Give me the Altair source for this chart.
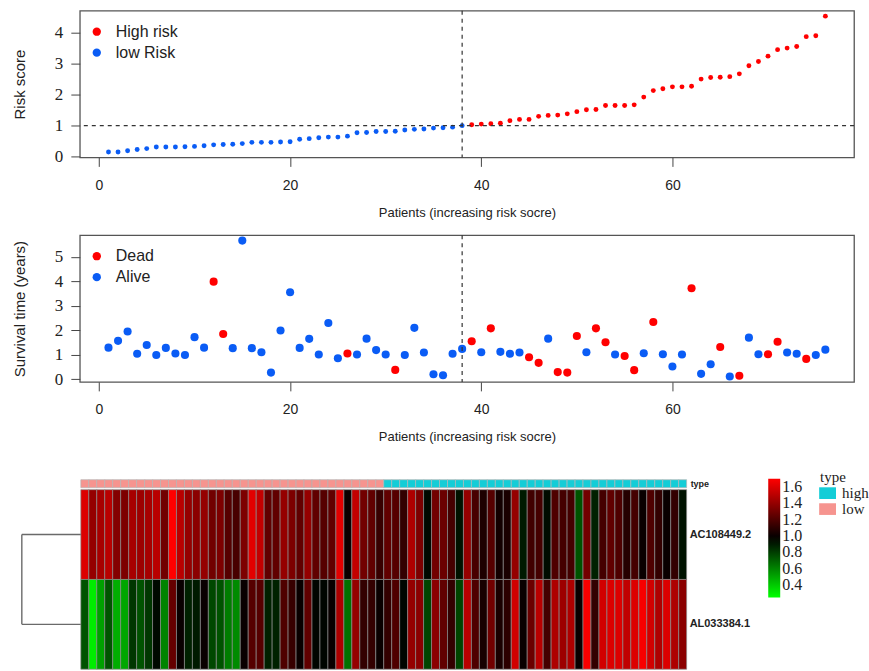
import altair as alt
import pandas as pd

# ---------------- data ----------------
risk_score = [0.15, 0.15, 0.19, 0.23, 0.26, 0.31, 0.31, 0.31, 0.32, 0.33,
              0.35, 0.38, 0.39, 0.40, 0.42, 0.46, 0.46, 0.46, 0.47, 0.48,
              0.56, 0.58, 0.61, 0.63, 0.63, 0.66, 0.77, 0.78, 0.81, 0.81,
              0.82, 0.86, 0.88, 0.89, 0.92, 0.93, 0.95, 1.00,
              1.03, 1.05, 1.06, 1.08, 1.16, 1.20, 1.20, 1.30, 1.33, 1.34,
              1.38, 1.45, 1.51, 1.52, 1.65, 1.65, 1.65, 1.67, 1.92, 2.13,
              2.19, 2.25, 2.25, 2.27, 2.50, 2.55, 2.56, 2.58, 2.67, 2.93,
              3.07, 3.24, 3.45, 3.50, 3.55, 3.87, 3.90, 4.53]

survival_time = [1.29, 1.57, 1.95, 1.04, 1.40, 0.99, 1.28, 1.05, 0.99, 1.72,
                 1.29, 3.99, 1.85, 1.27, 5.67, 1.27, 1.10, 0.27, 1.99, 3.56,
                 1.28, 1.65, 1.01, 2.30, 0.86, 1.05, 1.01, 1.66, 1.19, 1.01,
                 0.38, 0.99, 2.10, 1.09, 0.20, 0.16, 1.04, 1.24, 1.55, 1.10,
                 2.08, 1.12, 1.04, 1.09, 0.90, 0.67, 1.66, 0.29, 0.27, 1.77,
                 1.10, 2.08, 1.51, 1.01, 0.95, 0.37, 1.06, 2.34, 1.02, 0.52,
                 1.01, 3.72, 0.22, 0.61, 1.32, 0.11, 0.14, 1.70, 1.02, 1.02,
                 1.53, 1.09, 1.04, 0.83, 0.99, 1.21]

dead_patients = [12, 13, 26, 31, 39, 41, 45, 46, 48, 49, 50, 52, 53, 55, 56,
                 58, 62, 65, 67, 70, 71, 74]

gene_names = ["AC108449.2", "AL033384.1"]
expr_ac108449 = [1.60, 1.40, 1.45, 1.50, 1.35, 1.33, 1.45, 1.42, 1.45, 1.50,
                 1.30, 1.70, 1.50, 1.40, 1.37, 1.40, 1.30, 1.33, 1.22, 1.18,
                 1.33, 1.62, 1.53, 1.25, 1.25, 1.40, 1.33, 1.25, 1.40, 1.25,
                 1.22, 1.25, 1.62, 1.00, 1.53, 1.30, 1.25, 1.13, 1.25, 1.22,
                 1.12, 1.47, 1.33, 0.95, 1.30, 1.28, 1.17, 0.92, 1.40, 1.18,
                 1.06, 1.22, 1.03, 1.05, 1.40, 0.90, 1.16, 1.17, 0.94, 1.20,
                 1.17, 1.17, 0.74, 1.30, 0.88, 1.17, 1.25, 1.20, 1.08, 1.17,
                 1.00, 1.20, 1.12, 1.00, 1.12, 0.92]
expr_al033384 = [0.74, 0.30, 0.52, 0.74, 0.48, 0.50, 0.82, 0.74, 0.82, 0.95,
                 0.60, 1.26, 1.00, 0.88, 0.90, 1.00, 0.77, 0.74, 0.62, 0.58,
                 1.00, 1.22, 1.22, 0.88, 0.88, 1.20, 1.13, 1.00, 1.25, 0.96,
                 0.96, 1.00, 1.47, 0.65, 1.40, 1.12, 1.12, 1.00, 1.12, 1.20,
                 0.96, 1.40, 1.37, 0.78, 1.37, 1.25, 1.12, 0.78, 1.50, 1.20,
                 1.04, 1.30, 1.05, 1.10, 1.57, 1.00, 1.28, 1.50, 1.17, 1.47,
                 1.42, 1.47, 1.00, 1.68, 1.12, 1.57, 1.60, 1.60, 1.52, 1.60,
                 1.68, 1.57, 1.47, 1.60, 1.47, 1.37]

cutoff_patient = [38]
cutoff_score = [1.0]
dendro_height = [7.4]
x_ticks = [0, 20, 40, 60]
risk_ticks = [0, 1, 2, 3, 4]
surv_ticks = [0, 1, 2, 3, 4, 5]
legend_values = [0.4, 0.6, 0.8, 1.0, 1.2, 1.4, 1.6]

risk_labels = ["High risk", "low Risk"]
status_labels = ["Dead", "Alive"]
type_labels = ["high", "low"]

RED = "#FF0000"
BLUE = "#0A5CF5"
CYAN = "#14CDD7"
PINK = "#F6948F"
SANS = "Liberation Sans"
SERIF = "Liberation Serif"

n = len(risk_score)
patients = list(range(1, n + 1))
df = pd.DataFrame({
    "patient": patients,
    "score": risk_score,
    "surv": survival_time,
    "group": ["low Risk" if p <= cutoff_patient[0] else "High risk" for p in patients],
    "status": ["Dead" if p in dead_patients else "Alive" for p in patients],
    "type": ["low" if p <= cutoff_patient[0] else "high" for p in patients],
})
df["x0"] = df["patient"] - 1
cut_df = pd.DataFrame({"patient": cutoff_patient, "score": cutoff_score,
                       "surv": cutoff_score})

cells = []
for gi, vals in enumerate([expr_ac108449, expr_al033384]):
    for p, v in zip(patients, vals):
        cells.append({"x0": p - 1, "x1": p, "r0": gi, "r1": gi + 1, "value": v,
                      "gene": gene_names[gi]})
cells_df = pd.DataFrame(cells)
labels_df = pd.DataFrame({"gene": gene_names, "yc": [0.5, 1.5], "xe": [n, n]})
dend_h = pd.DataFrame({"x": [-dendro_height[0]] * 2, "x2": [0, 0], "y": [0.5, 1.5]})
dend_v = pd.DataFrame({"x": [-dendro_height[0]], "y": [0.5], "y2": [1.5]})

W = 776
H = 147

X_SCALE = alt.Scale(domain=[-2, 79], nice=False, zero=False)
X_AXIS = alt.Axis(values=x_ticks, title="Patients (increasing risk socre)",
                  grid=False, domain=False, tickSize=9, tickColor="#444",
                  labelFont=SANS, labelFontSize=14, labelPadding=12,
                  labelColor="#222", titleFont=SANS, titleFontSize=13,
                  titleFontWeight="normal", titleColor="#222", titlePadding=14)
X_ENC = alt.X("patient:Q", scale=X_SCALE, axis=X_AXIS)


def y_axis(title, vals):
    return alt.Axis(values=vals, title=title, grid=False, domain=False, tickSize=9,
                    tickColor="#444", labelFont=SERIF, labelFontSize=17,
                    labelPadding=8, labelAlign="right", labelColor="#222",
                    labelOverlap=False,
                    titleFont=SANS, titleFontSize=15, titleFontWeight="normal",
                    titleColor="#222", titlePadding=27)


def point_legend():
    return alt.Legend(title=None, orient="none", legendX=9, legendY=13,
                      symbolType="circle", symbolSize=70, symbolStrokeWidth=0,
                      labelFont=SANS, labelFontSize=16, labelColor="#222",
                      labelOffset=11, rowPadding=5)


dash = dict(strokeDash=[4, 4], color="#333", strokeWidth=1.2)

# ---------------- top panel: risk score ----------------
Y_TOP = alt.Y("score:Q", scale=alt.Scale(domain=[-0.025, 4.705], nice=False, zero=False),
              axis=y_axis("Risk score", risk_ticks))
top_pts = alt.Chart(df).mark_circle(size=24, opacity=1).encode(
    x=X_ENC, y=Y_TOP,
    color=alt.Color("group:N", scale=alt.Scale(domain=risk_labels, range=[RED, BLUE]),
                    legend=point_legend()),
)
top_h = alt.Chart(cut_df).mark_rule(**dash).encode(y=Y_TOP)
top_v = alt.Chart(cut_df).mark_rule(**dash).encode(x=X_ENC)
top = alt.layer(top_pts, top_h, top_v).properties(width=W, height=H)

# ---------------- middle panel: survival ----------------
Y_MID = alt.Y("surv:Q", scale=alt.Scale(domain=[-0.11, 5.89], nice=False, zero=False),
              axis=y_axis("Survival time (years)", surv_ticks))
mid_pts = alt.Chart(df).mark_circle(size=66, opacity=1).encode(
    x=X_ENC, y=Y_MID,
    color=alt.Color("status:N", scale=alt.Scale(domain=status_labels, range=[RED, BLUE]),
                    legend=point_legend()),
)
mid_v = alt.Chart(cut_df).mark_rule(**dash).encode(x=X_ENC)
mid = alt.layer(mid_pts, mid_v).properties(width=W, height=H)

# ---------------- heatmap ----------------
hx = alt.Scale(domain=[-0.125, 97.0], nice=False, zero=False)
hy = alt.Scale(domain=[-0.356, 2.0], nice=False, zero=False, reverse=True)

heat_cells = alt.Chart(cells_df).mark_rect(stroke="#8a8a8a", strokeWidth=0.7).encode(
    x=alt.X("x0:Q", scale=hx, axis=None),
    x2="x1:Q",
    y=alt.Y("r0:Q", scale=hy, axis=None),
    y2="r1:Q",
    color=alt.Color("value:Q",
                    scale=alt.Scale(domain=[0.25, 0.975, 1.7],
                                    range=["#00FF00", "#000000", "#FF0000"],
                                    interpolate="rgb"),
                    legend=alt.Legend(title=None, orient="none", legendX=690, legendY=21,
                                      direction="vertical", gradientLength=119,
                                      gradientThickness=12, gradientStrokeWidth=0,
                                      values=legend_values, format=".1f",
                                      labelFont=SERIF, labelFontSize=16,
                                      labelColor="#222", labelOverlap=False,
                                      labelOffset=2)),
)
type_bar = alt.Chart(df).mark_rect(stroke="#b5b5b5", strokeWidth=0.7).encode(
    x=alt.X("x0:Q", scale=hx, axis=None),
    x2=alt.X2("patient:Q"),
    y=alt.datum(-0.111),
    y2=alt.datum(-0.022),
    fill=alt.Fill("type:N", scale=alt.Scale(domain=type_labels, range=[CYAN, PINK]),
                  legend=alt.Legend(title="type", orient="none", legendX=742,
                                    legendY=12, titleFont=SERIF, titleFontSize=15,
                                    titleFontWeight="normal", titleColor="#222",
                                    titlePadding=1, labelFont=SERIF, labelFontSize=15,
                                    labelColor="#222", symbolType="M-1.3,-0.9H1.3V0.9H-1.3Z",
                                    symbolSize=169, symbolStrokeWidth=0,
                                    symbolOpacity=1, labelOffset=7, rowPadding=0)),
)
row_labels = alt.Chart(labels_df).mark_text(
    align="left", baseline="middle", dx=3, font=SANS, fontSize=11,
    fontWeight="bold", color="#222").encode(
    x=alt.X("xe:Q", scale=hx), y=alt.Y("yc:Q", scale=hy), text="gene:N")
type_label = alt.Chart(pd.DataFrame({"t": ["type"], "xe": [n]})).mark_text(
    align="left", baseline="middle", dx=4, font=SANS, fontSize=9,
    fontWeight="bold", color="#222").encode(
    x=alt.X("xe:Q", scale=hx), y=alt.datum(-0.066), text="t:N")
dend1 = alt.Chart(dend_h).mark_rule(color="#6a6a6a", strokeWidth=1.4).encode(
    x=alt.X("x:Q", scale=hx), x2="x2:Q", y=alt.Y("y:Q", scale=hy))
dend2 = alt.Chart(dend_v).mark_rule(color="#6a6a6a", strokeWidth=1.4).encode(
    x=alt.X("x:Q", scale=hx), y=alt.Y("y:Q", scale=hy), y2="y2:Q")

heat = alt.layer(heat_cells, type_bar, row_labels, type_label, dend1, dend2).properties(
    width=W, height=212, view=alt.ViewBackground(stroke="transparent", strokeWidth=0))

chart = alt.vconcat(top, mid, heat, spacing=13).resolve_scale(
    x="independent", y="independent", color="independent", fill="independent"
).resolve_legend(color="independent").properties(
    padding={"left": 11, "top": 8, "right": 0, "bottom": 0},
    background="white",
).configure_view(stroke="#555", strokeWidth=1.3)

chart.save("out.html", embed_options={"renderer": "svg", "actions": False})
